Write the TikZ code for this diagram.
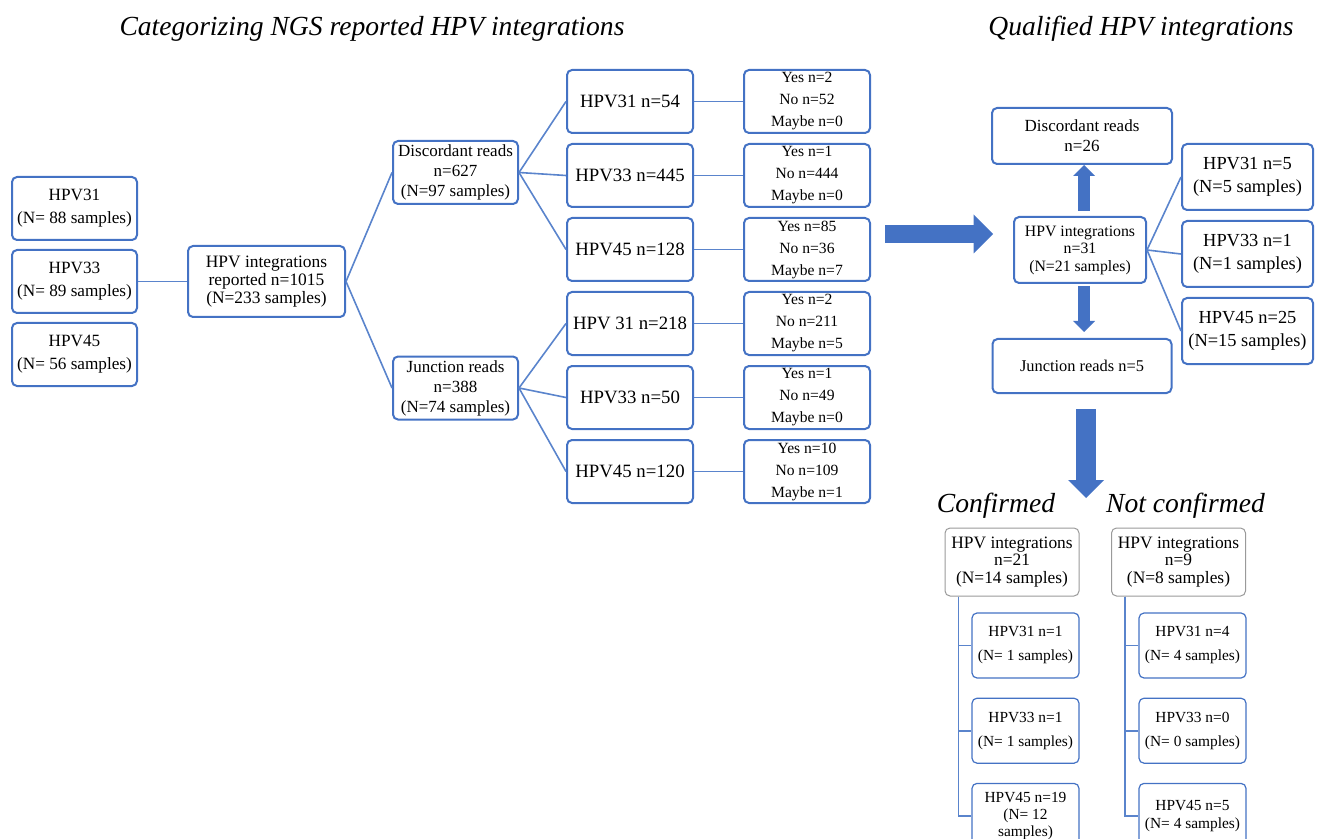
\documentclass[tikz,border=0pt]{standalone}
\usepackage{fontspec}
\setmainfont{Liberation Serif}
\usepackage{xcolor}
\usepackage{tikz}
\usetikzlibrary{positioning,arrows.meta,calc}

\definecolor{hpvblue}{HTML}{4472C4}
\definecolor{linkblue}{HTML}{5A84CC}
\definecolor{softgray}{HTML}{9A9A9A}
\newcommand{\fs}[2]{\fontsize{#1}{#2}\selectfont}

\begin{document}
\begin{tikzpicture}[
    x=0.5pt, y=-0.5pt,
    box/.style={draw=hpvblue, line width=1pt, rounded corners=2.5pt, fill=white,
      align=center, inner sep=1pt},
    leftbox/.style={box, minimum width=62.5pt, minimum height=31.5pt, font=\fs{8.6}{11.5}},
    readbox/.style={box, minimum width=62.5pt, minimum height=31.5pt, font=\fs{8.5}{10}},
    typebox/.style={box, minimum width=63pt, minimum height=31.5pt, font=\fs{9.4}{11}},
    votebox/.style={box, minimum width=63pt, minimum height=31.5pt, font=\fs{7.8}{11}},
    qualbox/.style={box, minimum width=65.5pt, minimum height=33pt, font=\fs{9.2}{11.5}},
    sumbox/.style={draw=softgray, line width=0.5pt, rounded corners=2.5pt, fill=white,
      align=center, inner sep=1pt, minimum width=67pt, minimum height=34pt, font=\fs{8.7}{8.75}},
    subbox/.style={box, line width=0.6pt, minimum width=53.5pt, minimum height=32.5pt, font=\fs{7.7}{12}},
    heading/.style={font=\fs{13.8}{16}\itshape},
    link/.style={draw=linkblue, line width=0.8pt},
    fatarrow/.style={draw=hpvblue, -{Triangle[length=#1, width=2*#1, line width=0pt]}}
  ]
    \useasboundingbox (0,0) rectangle (1326,839);
    \clip (0,0) rectangle (1326,839);

    % headings
    \node[heading] (ngshead) at (372,29) {Categorizing NGS reported HPV integrations};
    \node[heading] (qualhead) at (1141,29) {Qualified HPV integrations};

    % NGS reported integrations
    \node[leftbox] (l31) at (74.5,208.5) {HPV31\\(N= 88 samples)};
    \node[leftbox, below=4pt of l31] (l33) {HPV33\\(N= 89 samples)};
    \node[leftbox, below=4pt of l33] (l45) {HPV45\\(N= 56 samples)};
    \node[box, minimum width=78.5pt, minimum height=35.5pt, font=\fs{8.7}{9},
      right=24.5pt of l33] (reported) {HPV integrations\\reported n=1015\\(N=233 samples)};

    \node[readbox] (disc) at (455.5,172.5) {Discordant reads\\n=627\\(N=97 samples)};
    \node[readbox] (junc) at (455.5,388) {Junction reads\\n=388\\(N=74 samples)};

    \node[typebox] (d31) at (630,101.5) {HPV31 n=54};
    \node[typebox, below=4.5pt of d31] (d33) {HPV33 n=445};
    \node[typebox, below=4.5pt of d33] (d45) {HPV45 n=128};
    \node[typebox, below=4.5pt of d45] (j31) {HPV 31 n=218};
    \node[typebox, below=4.5pt of j31] (j33) {HPV33 n=50};
    \node[typebox, below=4.5pt of j33] (j45) {HPV45 n=120};

    \node[votebox, right=24.5pt of d31] (vd31) {Yes n=2\\No n=52\\Maybe n=0};
    \node[votebox, right=24.5pt of d33] (vd33) {Yes n=1\\No n=444\\Maybe n=0};
    \node[votebox, right=24.5pt of d45] (vd45) {Yes n=85\\No n=36\\Maybe n=7};
    \node[votebox, right=24.5pt of j31] (vj31) {Yes n=2\\No n=211\\Maybe n=5};
    \node[votebox, right=24.5pt of j33] (vj33) {Yes n=1\\No n=49\\Maybe n=0};
    \node[votebox, right=24.5pt of j45] (vj45) {Yes n=10\\No n=109\\Maybe n=1};

    \draw[link] (l33) -- (reported);
    \draw[link] (reported.east) -- (disc.west);
    \draw[link] (reported.east) -- (junc.west);
    \draw[link] (disc.east) -- (d31.west);
    \draw[link] (disc.east) -- (d33.west);
    \draw[link] (disc.east) -- (d45.west);
    \draw[link] (junc.east) -- (j31.west);
    \draw[link] (junc.east) -- (j33.west);
    \draw[link] (junc.east) -- (j45.west);
    \draw[link] (d31) -- (vd31);
    \draw[link] (d33) -- (vd33);
    \draw[link] (d45) -- (vd45);
    \draw[link] (j31) -- (vj31);
    \draw[link] (j33) -- (vj33);
    \draw[link] (j45) -- (vj45);

    % qualified integrations
    \coordinate (go) at (885,234);
    \coordinate (come) at (993,234);
    \draw[fatarrow=9.75pt, line width=9pt] (go) -- (come);

    \node[box, minimum width=66pt, minimum height=33pt, font=\fs{7.9}{8.75}] (qual) at (1080,250)
      {HPV integrations\\n=31\\(N=21 samples)};
    \node[box, minimum width=90pt, minimum height=28pt, font=\fs{8.5}{10}] (qdisc) at (1082,136)
      {Discordant reads\\n=26};
    \node[box, minimum width=89.5pt, minimum height=27pt, font=\fs{8.2}{10}] (qjunc) at (1082,366)
      {Junction reads n=5};
    \node[qualbox] (q31) at (1247.5,177) {HPV31 n=5\\(N=5 samples)};
    \node[qualbox, below=4.5pt of q31] (q33) {HPV33 n=1\\(N=1 samples)};
    \node[qualbox, below=4.5pt of q33] (q45) {HPV45 n=25\\(N=15 samples)};

    \draw[fatarrow=5.5pt, line width=6pt, shorten <=2.5pt]
      ([xshift=2pt]qual.north) -- ([xshift=2pt]qual.north |- qdisc.south);
    \draw[fatarrow=5.5pt, line width=6pt, shorten <=1pt, shorten >=3pt]
      ([xshift=2pt]qual.south) -- ([xshift=2pt]qual.south |- qjunc.north);
    \draw[link] (qual.east) -- (q31.west);
    \draw[link] (qual.east) -- (q33.west);
    \draw[link] (qual.east) -- (q45.west);

    \coordinate (split) at (1086,409);
    \coordinate (verdict) at (1086,498);
    \draw[fatarrow=9pt, line width=10pt] (split) -- (verdict);

    % confirmed / not confirmed
    \node[heading] (okhead) at (996,506) {Confirmed};
    \node[heading] (nothead) at (1185.5,506) {Not confirmed};

    \node[sumbox] (ok) at (1012,562) {HPV integrations\\n=21\\(N=14 samples)};
    \node[subbox] (ok31) at (1025.5,645.5) {HPV31 n=1\\(N= 1 samples)};
    \node[subbox, below=9.5pt of ok31] (ok33) {HPV33 n=1\\(N= 1 samples)};
    \node[subbox, below=9.5pt of ok33, font=\fs{7.7}{8.5}] (ok45) {HPV45 n=19\\(N= 12\\samples)};

    \node[sumbox] (not) at (1178.5,562) {HPV integrations\\n=9\\(N=8 samples)};
    \node[subbox] (not31) at (1192.5,645.5) {HPV31 n=4\\(N= 4 samples)};
    \node[subbox, below=9.5pt of not31] (not33) {HPV33 n=0\\(N= 0 samples)};
    \node[subbox, below=9.5pt of not33, font=\fs{7.7}{9}] (not45) {HPV45 n=5\\(N= 4 samples)};

    \draw[link] ([xshift=7pt]ok.south west) |- (ok31.west);
    \draw[link] ([xshift=7pt]ok.south west) |- (ok33.west);
    \draw[link] ([xshift=7pt]ok.south west) |- (ok45.west);
    \draw[link] ([xshift=7pt]not.south west) |- (not31.west);
    \draw[link] ([xshift=7pt]not.south west) |- (not33.west);
    \draw[link] ([xshift=7pt]not.south west) |- (not45.west);
  \end{tikzpicture}
\end{document}
